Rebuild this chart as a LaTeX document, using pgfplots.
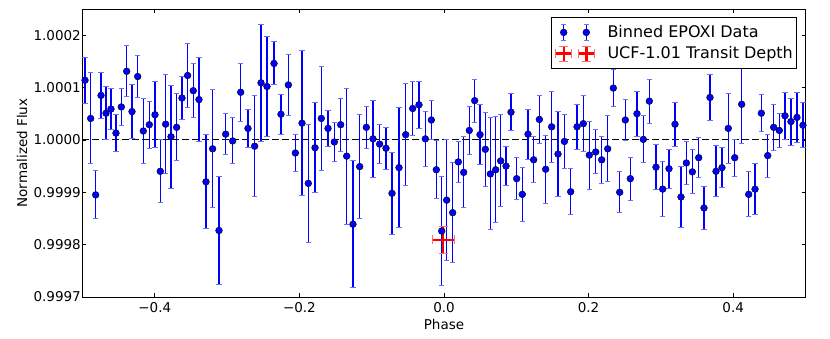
\documentclass[border=0pt]{standalone}
\usepackage{fontspec}
\setmainfont{DejaVu Sans}
\usepackage{pgfplots}
\pgfplotsset{compat=1.18}
\usepackage{pgfplotstable}
\usetikzlibrary{calc}

% y is (flux - 1) in units of 1e-5, e is its error
\pgfplotstableread{
x y e
-0.4965 11.4 4.4
-0.4887 4.1 8.7
-0.4818 -10.5 4.6
-0.4744 8.5 4.4
-0.4675 5.1 5.1
-0.4606 5.9 4.0
-0.4537 1.3 3.6
-0.4463 6.3 3.6
-0.4389 13.1 4.9
-0.4315 5.4 5.1
-0.4237 12.1 4.0
-0.4159 1.7 6.3
-0.4076 2.9 4.5
-0.3997 4.8 6.3
-0.3924 -6.0 6.0
-0.3850 3.0 9.5
-0.3776 0.6 9.8
-0.3698 2.4 6.4
-0.3624 8.0 4.1
-0.3546 12.3 6.1
-0.3468 9.4 5.1
-0.3389 7.7 8.0
-0.3292 -8.0 9.0
-0.3200 -1.7 11.3
-0.3112 -17.3 10.3
-0.3020 1.1 3.9
-0.2923 -0.2 4.4
-0.2812 9.1 5.5
-0.2711 2.2 3.7
-0.2619 -1.2 9.7
-0.2531 10.9 11.2
-0.2448 10.2 9.6
-0.2351 14.6 4.1
-0.2255 4.9 3.8
-0.2153 10.5 5.9
-0.2056 -2.5 3.6
-0.1964 3.2 13.8
-0.1877 -8.3 11.3
-0.1784 -1.5 8.6
-0.1697 4.1 10.0
-0.1604 2.2 3.4
-0.1517 -0.4 3.7
-0.1429 2.9 5.1
-0.1346 -3.1 13.0
-0.1259 -16.1 12.1
-0.1166 -5.1 9.9
-0.1074 2.4 4.0
-0.0982 0.2 7.3
-0.0890 -0.8 3.7
-0.0802 -1.6 4.0
-0.0719 -10.2 7.8
-0.0622 -5.3 11.4
-0.0530 1.0 9.8
-0.0433 6.0 5.2
-0.0346 6.7 4.5
-0.0258 0.2 5.3
-0.0175 3.8 3.8
-0.0106 -5.7 5.5
-0.0032 -17.4 10.5
0.0037 -11.5 11.5
0.0120 -13.9 9.5
0.0198 -4.2 3.9
0.0272 -6.2 6.8
0.0350 1.8 4.5
0.0424 7.5 4.1
0.0498 1.0 5.7
0.0572 -1.8 7.1
0.0641 -6.5 10.7
0.0715 -5.7 10.1
0.0784 -4.0 8.8
0.0858 -5.0 3.8
0.0927 5.3 3.5
0.1005 -7.4 4.0
0.1083 -10.4 5.2
0.1162 1.1 4.8
0.1240 -3.8 4.4
0.1319 3.9 4.6
0.1406 -5.6 6.5
0.1489 2.5 6.8
0.1577 -2.7 8.1
0.1665 -0.3 5.2
0.1752 -9.9 4.4
0.1840 2.5 4.3
0.1927 3.1 5.3
0.2010 -2.9 6.5
0.2098 -2.3 4.2
0.2181 -3.8 4.5
0.2264 -1.7 6.3
0.2342 9.9 3.6
0.2430 -10.0 3.9
0.2508 3.8 4.0
0.2577 -7.4 4.1
0.2669 5.0 4.3
0.2757 0.1 4.5
0.2840 7.4 4.2
0.2932 -5.2 4.3
0.3025 -9.4 5.2
0.3112 -5.5 3.7
0.3195 3.0 4.2
0.3278 -10.9 5.8
0.3352 -4.4 4.1
0.3435 -6.1 4.2
0.3523 -3.4 3.8
0.3596 -13.0 4.1
0.3679 8.1 4.4
0.3762 -6.0 4.9
0.3845 -5.3 3.8
0.3932 2.2 6.7
0.4021 -3.4 3.5
0.4117 6.8 7.5
0.4214 -10.4 4.3
0.4302 -9.4 4.9
0.4389 5.1 3.5
0.4477 -3.0 4.1
0.4560 2.4 4.4
0.4638 1.8 3.3
0.4716 4.6 4.5
0.4799 3.5 4.5
0.4882 4.3 4.8
0.4965 2.8 4.3
}\epoxi

\pgfplotstableread{
x y ex ey
-0.001 -19.1 0.0155 2.5
}\depth

\definecolor{capblue}{RGB}{110,110,255}
\definecolor{capred}{RGB}{255,110,110}
\newcommand{\chartfont}{\fontsize{13.5pt}{16pt}\selectfont}
\newcommand{\legfont}{\fontsize{16pt}{19pt}\selectfont}

\begin{document}
\begin{tikzpicture}[font=\chartfont]
\begin{axis}[
    scale only axis,
    width=723pt, height=288pt,
    xmin=-0.5, xmax=0.5, ymin=-30, ymax=25,
    xtick={-0.4,-0.2,0,0.2,0.4},
    xticklabels={−0.4,−0.2,0.0,0.2,0.4},
    ytick={-30,-20,-10,0,10,20},
    yticklabels={0.9997,0.9998,0.9999,1.0000,1.0001,1.0002},
    tick align=inside, tick pos=both, major tick length=4pt,
    axis line style={line width=0.9pt},
    tick style={black, line width=0.8pt},
    every tick label/.append style={font=\chartfont},
    xticklabel style={anchor=base, yshift=-15.7pt},
    yticklabel style={anchor=east, inner xsep=0pt, xshift=-1.5pt},
    xlabel={Phase},
    xlabel style={font=\chartfont, at={(axis description cs:0.5,0)}, anchor=base, yshift=-32.3pt},
    ylabel={Normalized Flux},
    ylabel style={font=\chartfont, at={(axis description cs:-0.0837,0.5)}, anchor=center},
    legend style={font=\legfont, at={(rel axis cs:1,1)}, anchor=north east, xshift=-8.5pt, yshift=-8pt,
        draw=black, line width=0.8pt, inner xsep=2.7pt, inner ysep=6pt,
        nodes={inner sep=1pt}, column sep=11pt, row sep=3.5pt, cells={anchor=west}},
]
\addplot[black, line width=1pt, dash pattern=on 6.5pt off 3.5pt, forget plot]
    coordinates {(-0.5,0) (0.5,0)};

\addplot[only marks, mark=*, mark size=3.4pt,
    mark options={fill=blue, draw=black, line width=0.4pt},
    legend image code/.code={
        \path (-8pt,0pt) (30.6pt,0pt);
        \foreach \xx in {0pt,22.6pt} {
            \draw[blue, line width=1.4pt] (\xx,-8.3pt) -- (\xx,8.3pt);
            \draw[capblue, line width=1pt] ([xshift=-2.6pt]\xx,-8.3pt) -- ([xshift=2.6pt]\xx,-8.3pt)
                ([xshift=-2.6pt]\xx,8.3pt) -- ([xshift=2.6pt]\xx,8.3pt);
            \fill[blue, draw=black, line width=0.4pt] (\xx,0pt) circle (3.4pt);
        }
    },
    error bars/.cd, y dir=both, y explicit,
    error bar style={blue, line width=1.4pt},
    error mark options={rotate=90, capblue, line width=1pt, mark size=2.6pt}]
    table[x=x, y=y, y error=e] {\epoxi};
\addlegendentry{Binned EPOXI Data}

\addplot[draw=none, mark=none,
    legend image code/.code={
        \path (-8pt,0pt) (30.6pt,0pt);
        \foreach \xx in {0pt,22.6pt} {
            \draw[red, line width=2.4pt] ([xshift=-8pt]\xx,0pt) -- ([xshift=8pt]\xx,0pt)
                (\xx,-7.5pt) -- (\xx,7.5pt);
            \draw[capred, line width=1pt] ([xshift=-8pt]\xx,-4.5pt) -- ([xshift=-8pt]\xx,4.5pt)
                ([xshift=8pt]\xx,-4.5pt) -- ([xshift=8pt]\xx,4.5pt)
                ([xshift=-4.5pt]\xx,-7.5pt) -- ([xshift=4.5pt]\xx,-7.5pt)
                ([xshift=-4.5pt]\xx,7.5pt) -- ([xshift=4.5pt]\xx,7.5pt);
        }
    },
    error bars/.cd, x dir=both, x explicit, y dir=both, y explicit,
    error bar style={draw=red, line width=2.4pt},
    error mark options={rotate=90, draw=capred, line width=1pt, mark size=4.5pt}]
    table[x=x, y=y, x error=ex, y error=ey] {\depth};
\addlegendentry{UCF-1.01 Transit Depth}
\end{axis}
\pgfresetboundingbox
\path ($(current axis.south west)+(-82.5pt,-42pt)$) rectangle ($(current axis.north east)+(24.5pt,9pt)$);
\end{tikzpicture}
\end{document}
